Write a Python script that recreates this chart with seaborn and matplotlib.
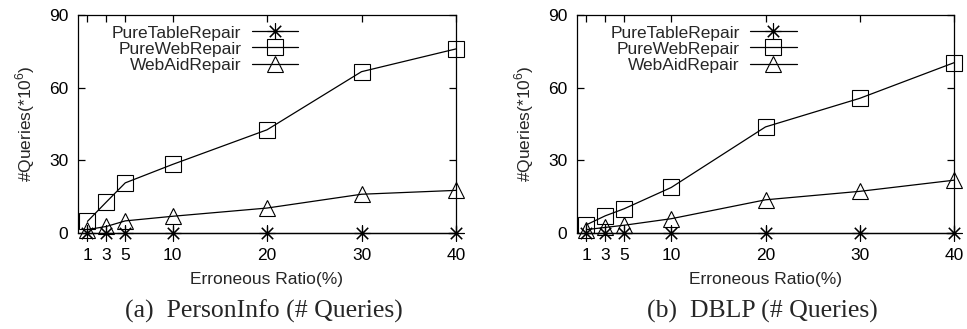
import numpy as np
import pandas as pd
import matplotlib
matplotlib.use("Agg")
import matplotlib.pyplot as plt
import seaborn as sns

ratios = [1, 3, 5, 10, 20, 30, 40]
x_ticks = [1, 3, 5, 10, 20, 30, 40]
y_ticks = [0, 30, 60, 90]
series_names = ["PureTableRepair", "PureWebRepair", "WebAidRepair"]

person_table = [0, 0, 0, 0, 0, 0, 0]
person_web = [4.8, 12.8, 20.7, 28.3, 42.6, 66.6, 76.0]
person_aid = [1.4, 2.7, 5.0, 6.9, 10.3, 16.0, 17.6]

dblp_table = [0, 0, 0, 0, 0, 0, 0]
dblp_web = [3.4, 7.1, 10.0, 18.8, 43.8, 55.6, 70.3]
dblp_aid = [1.4, 2.3, 3.2, 5.9, 13.7, 17.2, 21.8]

captions = ["(a)  PersonInfo (# Queries)", "(b)  DBLP (# Queries)"]
xlabel = "Erroneous Ratio(%)"
ylabel = r"#Queries(*10$^6$)"

sns.set_theme(style="ticks")
plt.rcParams["font.family"] = ["Liberation Sans", "DejaVu Sans"]
plt.rcParams["mathtext.fontset"] = "custom"
plt.rcParams["mathtext.rm"] = "Liberation Sans"

fig = plt.figure(figsize=(9.67, 3.29), dpi=100)
W, H = 967, 329
ax_boxes = [(78, 456), (577, 954)]
top_px, bot_px = 15, 233

markers = [(8, 2, 0), "s", "^"]
msizes = [11.5, 11.5, 12]

datasets = [
    [person_table, person_web, person_aid],
    [dblp_table, dblp_web, dblp_aid],
]

fs = 12.5
for i, (l, r) in enumerate(ax_boxes):
    ax = fig.add_axes([l / W, 1 - bot_px / H, (r - l) / W, (bot_px - top_px) / H])
    for name, vals, mk, ms in zip(series_names, datasets[i], markers, msizes):
        df = pd.DataFrame({"x": ratios, "y": vals})
        sns.lineplot(data=df, x="x", y="y", ax=ax, color="black", lw=0.9,
                     marker=mk, markersize=ms, mfc="none", mec="black",
                     mew=0.8, label=name, clip_on=False, zorder=3)
    ax.set_xlim(0, 40)
    ax.set_ylim(0, 90)
    ax.set_xticks(x_ticks)
    ax.set_yticks(y_ticks)
    ax.tick_params(direction="in", length=5, width=0.9, labelsize=fs,
                   top=True, right=True, colors="black")
    ax.tick_params(axis="x", pad=11)
    ax.tick_params(axis="y", pad=7)
    for s in ax.spines.values():
        s.set_linewidth(0.9)
        s.set_color("black")
    ax.set_xlabel(xlabel, fontsize=fs, labelpad=6)
    ax.set_ylabel(ylabel, fontsize=fs, labelpad=8.5)
    leg = ax.legend(loc="upper right", bbox_to_anchor=(0.62, 1.016), frameon=False,
                    markerfirst=False, fontsize=fs, labelspacing=0.05,
                    handlelength=2.7, handletextpad=0.6, borderpad=0.3,
                    numpoints=1)
    cx = (l + r) / 2 - 3
    fig.text(cx / W, 1 - 311 / H, captions[i], ha="center", va="center",
             fontsize=18.5, family="Liberation Serif")

fig.savefig("out.png", dpi=100)
